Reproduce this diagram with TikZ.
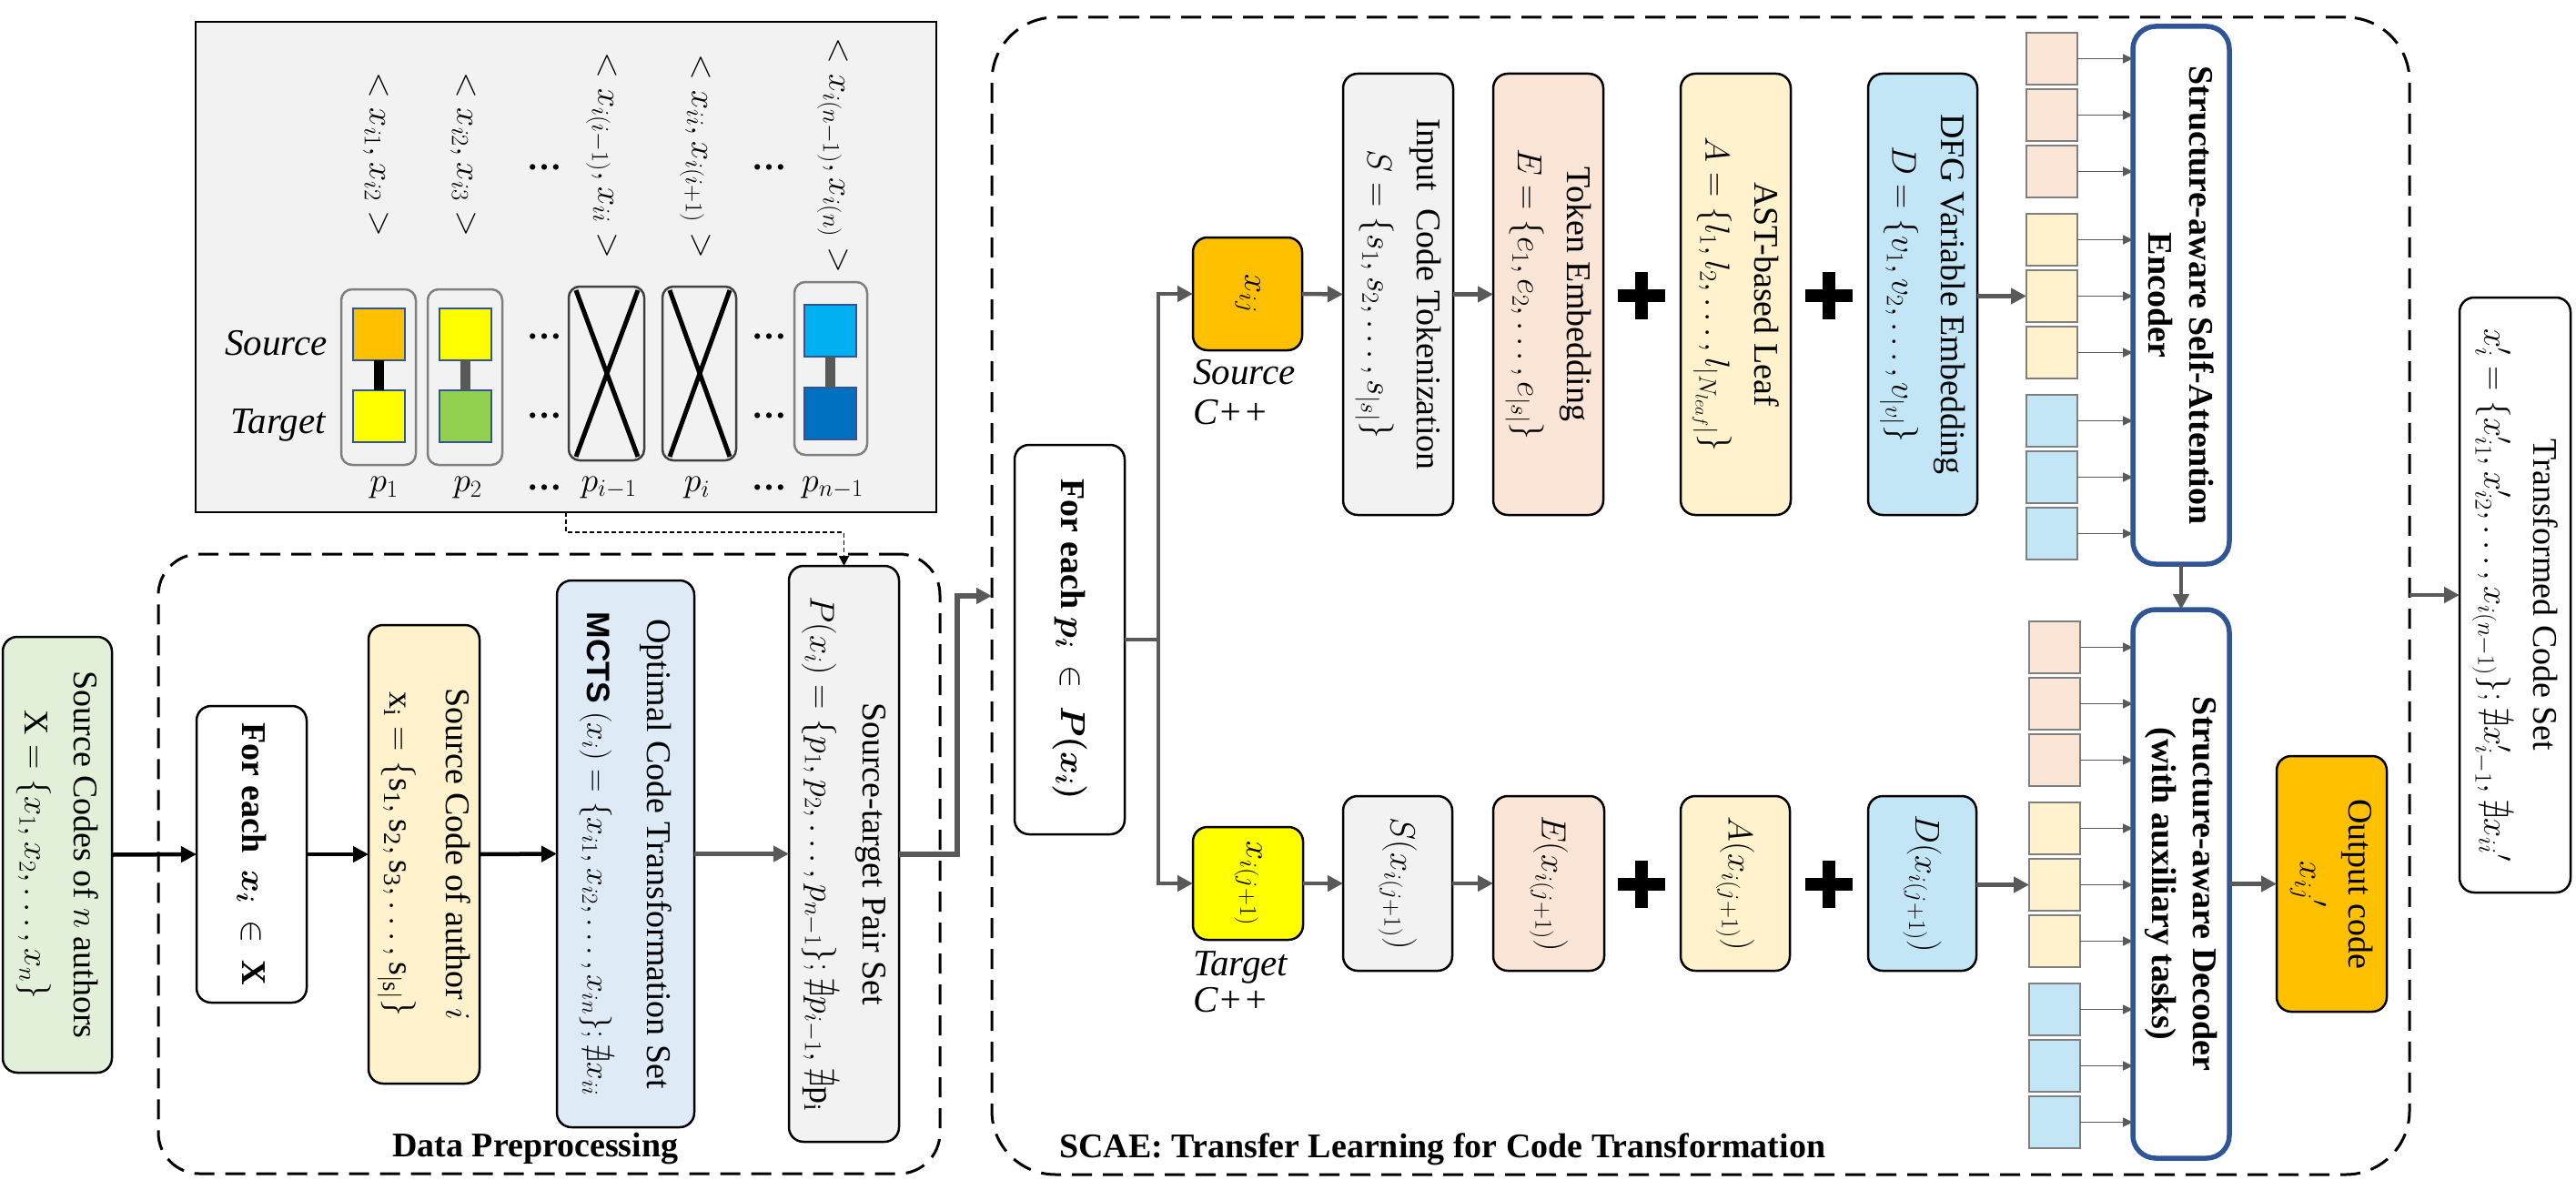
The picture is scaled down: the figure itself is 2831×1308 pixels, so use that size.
\RequirePackage{fix-cm}
\documentclass[tikz,border=0pt]{standalone}
\usepackage{amsmath,amssymb,bm}
\usepackage{fontspec}
\setmainfont{Liberation Serif}
\newfontfamily\arialfont{Liberation Sans}
\usetikzlibrary{arrows.meta}
\definecolor{cgreen}{HTML}{E2F0D9}
\definecolor{cyel}{HTML}{FFF2CC}
\definecolor{cmcts}{HTML}{DEEBF7}
\definecolor{cgray}{HTML}{F2F2F2}
\definecolor{cpeach}{HTML}{FBE5D6}
\definecolor{cdfg}{HTML}{C3E6F6}
\definecolor{corange}{HTML}{FFC000}
\definecolor{cyellow}{HTML}{FFFF00}
\definecolor{cgreentwo}{HTML}{92D050}
\definecolor{ccyan}{HTML}{00B0F0}
\definecolor{cdblue}{HTML}{0070C0}
\definecolor{cencb}{HTML}{2F5597}
\definecolor{carr}{HTML}{595959}
\definecolor{cpborder}{HTML}{7F7F7F}
\newcommand\bodyfs{\fontsize{38}{54}\selectfont}
\newcommand\boldfs{\fontsize{38}{45}\selectfont\bfseries}
\newcommand\labfs{\fontsize{41}{44}\selectfont\itshape}
\newcommand\plusat[2]{\fill[black] (#1-26,#2-7) rectangle (#1+26,#2+7); \fill[black] (#1-7,#2-26) rectangle (#1+7,#2+26);}
\begin{document}
\begin{tikzpicture}[x=1pt,y=-1pt,
 box/.style={draw=black, line width=2.5pt, rounded corners=16pt, anchor=north west, inner sep=0pt, outer sep=0pt},
 txt/.style={rotate=-90, align=center, font=\bodyfs, inner sep=0pt},
 btxt/.style={rotate=-90, align=center, font=\boldfs, inner sep=0pt},
 barrow/.style={draw=black, line width=4.5pt, -{Triangle[length=17pt,width=17pt]}},
 garrow/.style={draw=carr, line width=4.5pt, -{Triangle[length=17pt,width=17pt]}},
 gline/.style={draw=carr, line width=4.5pt},
 thinarr/.style={draw=carr, line width=1.6pt, -{Triangle[length=11pt,width=10pt]}},
 dotarr/.style={draw=black, line width=1.8pt, dash pattern=on 5pt off 3pt, -{Triangle[length=11pt,width=11pt]}},
 dashbox/.style={draw=black, line width=3pt, dash pattern=on 22pt off 12pt, anchor=north west, inner sep=0pt, outer sep=0pt},
 pbox/.style={draw=cpborder, line width=2.5pt, rounded corners=12pt, anchor=north west, inner sep=0pt, outer sep=0pt},
 xbox/.style={draw=black!75, line width=2.5pt, rounded corners=12pt, anchor=north west, inner sep=0pt, outer sep=0pt},
 isq/.style={draw=cencb, line width=2pt, anchor=north west, inner sep=0pt, outer sep=0pt, minimum width=57pt, minimum height=57pt},
 ssq/.style={draw=cpborder, line width=2.5pt, anchor=north west, inner sep=0pt, outer sep=0pt, minimum width=56pt, minimum height=57pt},
 encbox/.style={draw=cencb, line width=5.5pt, rounded corners=25pt, fill=white, anchor=north west, inner sep=0pt, outer sep=0pt}
]
\useasboundingbox (0,0) rectangle (2831,1308);

% ---------------- top gray box with pairs ----------------
\node[draw=black, line width=2.5pt, fill=cgray, anchor=north west, minimum width=814pt, minimum height=539pt, inner sep=0pt, outer sep=0pt] (gbox) at (215,24) {};
\node[rotate=-90, font=\bodyfs, inner sep=0pt] (tp1) at (413,170) {$<x_{i1}, x_{i2}>$};
\node[rotate=-90, font=\bodyfs, inner sep=0pt] (tp2) at (509,170) {$<x_{i2}, x_{i3}>$};
\node[rotate=-90, font=\bodyfs, inner sep=0pt] (tp3) at (661,171) {$<x_{i(i-1)}, x_{ii}>$};
\node[rotate=-90, font=\bodyfs, inner sep=0pt] (tp4) at (764,172) {$<x_{ii}, x_{i(i+1)}>$};
\node[rotate=-90, font=\bodyfs, inner sep=0pt] (tp5) at (915,171) {$<x_{i(n-1)}, x_{i(n)}>$};
\foreach \yy [count=\k] in {184,370,457,536} {
  \node[font=\bodyfs\bfseries, inner sep=0pt] (dl\k) at (598,\yy) {…};
  \node[font=\bodyfs\bfseries, inner sep=0pt] (dr\k) at (845,\yy) {…};
}
\node[font=\labfs, anchor=east, inner sep=0pt] (srclab) at (360,377) {Source};
\node[font=\labfs, anchor=east, inner sep=0pt] (tgtlab) at (358,467) {Target};
% pair boxes
\node[pbox, minimum width=82pt, minimum height=193pt] (pb1) at (375,318) {};
\node[pbox, minimum width=82pt, minimum height=193pt] (pb2) at (470,318) {};
\node[xbox, minimum width=83pt, minimum height=191pt] (pb3) at (625,315) {};
\node[xbox, minimum width=81pt, minimum height=191pt] (pb4) at (728,315) {};
\node[pbox, minimum width=80pt, minimum height=190pt] (pb5) at (873,310) {};
% inner squares and links
\node[isq, fill=corange] (p1s) at (388,339) {};
\node[isq, fill=cyellow] (p1t) at (388,429) {};
\draw[line width=11pt, black] (p1s.south) -- (p1t.north);
\node[isq, fill=cyellow] (p2s) at (483,339) {};
\node[isq, fill=cgreentwo] (p2t) at (483,429) {};
\draw[line width=11pt, carr] (p2s.south) -- (p2t.north);
\node[isq, fill=ccyan] (p5s) at (884,335) {};
\node[isq, fill=cdblue] (p5t) at (884,426) {};
\draw[line width=11pt, carr] (p5s.south) -- (p5t.north);
% crosses
\draw[line width=5pt, black] ([xshift=8pt,yshift=-4pt]pb3.north west) -- ([xshift=-7pt,yshift=4pt]pb3.south east);
\draw[line width=5pt, black] ([xshift=-7pt,yshift=-4pt]pb3.north east) -- ([xshift=8pt,yshift=4pt]pb3.south west);
\draw[line width=5pt, black] ([xshift=8pt,yshift=-4pt]pb4.north west) -- ([xshift=-7pt,yshift=4pt]pb4.south east);
\draw[line width=5pt, black] ([xshift=-7pt,yshift=-4pt]pb4.north east) -- ([xshift=8pt,yshift=4pt]pb4.south west);
% p labels
\node[font=\bodyfs, inner sep=0pt] (pl1) at (422,536) {$p_1$};
\node[font=\bodyfs, inner sep=0pt] (pl2) at (514,536) {$p_2$};
\node[font=\bodyfs, inner sep=0pt] (pl3) at (669,536) {$p_{i-1}$};
\node[font=\bodyfs, inner sep=0pt] (pl4) at (766,536) {$p_i$};
\node[font=\bodyfs, inner sep=0pt] (pl5) at (915,536) {$p_{n-1}$};

% ---------------- Data preprocessing ----------------
\node[dashbox, rounded corners=45pt, minimum width=859pt, minimum height=681pt] (dpbox) at (174,609) {};
\node[font=\bodyfs\bfseries, anchor=west, inner sep=0pt] (dplab) at (431,1262) {Data Preprocessing};

\node[box, fill=cgreen, minimum width=120pt, minimum height=479pt] (green) at (3,700) {};
\node[txt] (greent) at (green.center) {Source Codes of $n$ authors\\ $\mathrm{X} = \{x_1, x_2, \dots, x_n\}$};

\node[box, fill=white, minimum width=121pt, minimum height=326pt] (fe1) at (216,776) {};
\node[txt, font=\bodyfs\bfseries] (fe1t) at (fe1.center) {For each\ \ $\bm{x_i}$\ \ $\in$\ \ $\mathbf{X}$};

\node[box, fill=cyel, minimum width=122pt, minimum height=504pt] (sc) at (405,687) {};
\node[txt] (sct) at (sc.center) {Source Code of author $i$\\[8pt] $\mathrm{x_i = \{s_1, s_2, s_3, \dots, s_{|s|}\}}$};

\node[box, fill=cmcts, minimum width=151pt, minimum height=601pt] (mcts) at (612,638) {};
\node[txt] (mctst) at (mcts.center) {Optimal Code Transformation Set\\[12pt] {\fontsize{35.5}{54}\selectfont{\arialfont\bfseries MCTS} $(x_i) = \{x_{i1}, x_{i2}, \dots, x_{in}\}; \nexists x_{ii}$}};

\node[box, fill=cgray, minimum width=121pt, minimum height=633pt] (stp) at (867,622) {};
\node[txt] (stpt) at (stp.center) {Source-target Pair Set\\[4pt] $P(x_i) = \{p_1, p_2, \dots, p_{n-1}\}; \nexists p_{i-1}, \nexists \mathrm{p_i}$};

\draw[barrow] (green.east) -- (fe1.west);
\draw[barrow] (fe1.east) -- (sc.west);
\draw[barrow] (sc.east) -- (mcts.west);
\draw[garrow] (mcts.east) -- (stp.west);

\coordinate (d1) at (622,563);
\coordinate (d2) at (622,585);
\draw[dotarr] (d1) -- (d2) -| (stp.north);

% ---------------- SCAE ----------------
\node[dashbox, rounded corners=70pt, minimum width=1558pt, minimum height=1272pt] (scae) at (1090,19) {};
\node[font=\bodyfs\bfseries, anchor=west, inner sep=0pt] (scaelab) at (1164,1263) {SCAE: Transfer Learning for Code Transformation};

\coordinate (elb) at (1052,655);
\coordinate (scaein) at (1090,655);
\draw[garrow, line width=6pt] (stp.east) -| (elb) -- (scaein);

\node[box, fill=white, minimum width=121pt, minimum height=428pt] (fe2) at (1115,489) {};
\node[txt, font=\bodyfs\bfseries] (fe2t) at (fe2.center) {For each $\bm{p_i}$\ \ $\in$\ \ $\bm{P(x_i)}$};

% source row
\node[box, fill=corange, minimum width=120pt, minimum height=124pt] (xij) at (1311,261) {};
\node[txt] (xijt) at (xij.center) {$x_{ij}$};
\node[font=\labfs, anchor=base west, inner sep=0pt] (srcA) at (1311,422) {Source};
\node[font=\labfs, anchor=base west, inner sep=0pt] (srcB) at (1311,466) {C++};

\node[box, fill=cgray, minimum width=121pt, minimum height=485pt] (tok) at (1476,81) {};
\node[txt] (tokt) at (tok.center) {Input\ \ Code Tokenization\\ $S = \{s_1, s_2, \dots, s_{|s|}\}$};
\node[box, fill=cpeach, minimum width=121pt, minimum height=485pt] (emb) at (1641,81) {};
\node[txt] (embt) at (emb.center) {Token Embedding\\ $E = \{e_1, e_2, \dots, e_{|s|}\}$};
\node[box, fill=cyel, minimum width=121pt, minimum height=485pt] (ast) at (1847,81) {};
\node[txt] (astt) at (ast.center) {AST-based Leaf\\ $A = \{l_1, l_2, \dots, l_{|N_{leaf}|}\}$};
\node[box, fill=cdfg, minimum width=120pt, minimum height=485pt] (dfg) at (2053,81) {};
\node[txt] (dfgt) at (dfg.center) {DFG Variable Embedding\\ $D = \{v_1, v_2, \dots, v_{|v|}\}$};
\plusat{1804}{325}
\plusat{2010}{325}

% target row
\node[box, fill=cyellow, minimum width=121pt, minimum height=124pt] (xij1) at (1311,909) {};
\node[txt] (xij1t) at (xij1.center) {$x_{i(j+1)}$};
\node[font=\labfs, anchor=base west, inner sep=0pt] (tgtA) at (1311,1072) {Target};
\node[font=\labfs, anchor=base west, inner sep=0pt] (tgtB) at (1311,1112) {C++};

\node[box, fill=cgray, minimum width=120pt, minimum height=192pt] (s2) at (1476,875) {};
\node[txt] (s2t) at (s2.center) {$S(x_{i(j+1)})$};
\node[box, fill=cpeach, minimum width=122pt, minimum height=192pt] (e2) at (1641,875) {};
\node[txt] (e2t) at (e2.center) {$E(x_{i(j+1)})$};
\node[box, fill=cyel, minimum width=120pt, minimum height=192pt] (a2) at (1847,875) {};
\node[txt] (a2t) at (a2.center) {$A(x_{i(j+1)})$};
\node[box, fill=cdfg, minimum width=119pt, minimum height=192pt] (d2b) at (2053,875) {};
\node[txt] (d2t) at (d2b.center) {$D(x_{i(j+1)})$};
\plusat{1804}{972}
\plusat{2010}{972}

% branch
\coordinate (br) at (1273,703);
\draw[gline] (fe2.east) -- (br);
\draw[garrow] (br) |- (xij.west);
\draw[garrow] (br) |- (xij1.west);
\draw[garrow] (xij.east) -- (tok.west);
\draw[garrow] (tok.east) -- (emb.west);
\draw[garrow] (xij1.east) -- (s2.west);
\draw[garrow] (s2.east) -- (e2.west);

% encoder / decoder
\node[encbox, minimum width=106pt, minimum height=591pt] (enc) at (2344,29) {};
\node[btxt] (enct) at (enc.center) {Structure-aware Self-Attention\\ Encoder};
\node[encbox, minimum width=106pt, minimum height=603pt] (dec) at (2344,670) {};
\node[btxt] (dect) at (dec.center) {Structure-aware Decoder\\ (with auxiliary tasks)};
\draw[garrow] (enc.south) -- (dec.north);

\foreach \g/\c in {0/cpeach,1/cyel,2/cdfg} {
  \foreach \k in {0,1,2} {
    \node[ssq, fill=\c] (se\g\k) at (2227,{36+199*\g+62*\k}) {};
    \draw[thinarr] (se\g\k.east) -- (se\g\k.east -| enc.west);
    \node[ssq, fill=\c] (sd\g\k) at (2230,{683+199*\g+62*\k}) {};
    \draw[thinarr] (sd\g\k.east) -- (sd\g\k.east -| dec.west);
  }
}
\draw[garrow] (dfg.east |- se11.west) -- (se11.west);
\draw[garrow] (d2b.east |- sd11.west) -- (sd11.west);

% output
\node[box, fill=corange, minimum width=121pt, minimum height=281pt] (out) at (2502,831) {};
\node[txt] (outt) at (out.center) {Output code\\ $x_{ij}{}'$};
\draw[garrow] (dec.east |- out.west) -- (out.west);

\node[box, fill=white, minimum width=122pt, minimum height=654pt] (trans) at (2703,327) {};
\node[txt] (transt) at (trans.center) {Transformed Code Set\\ $x_i' = \{x_{i1}', x_{i2}', \dots, x_{i(n-1)}\}; \nexists x_{i-1}', \nexists x_{ii}{}'$};
\coordinate (scaeout) at (2648,654);
\draw[garrow] (scaeout) -- (trans.west);
\end{tikzpicture}
\end{document}
